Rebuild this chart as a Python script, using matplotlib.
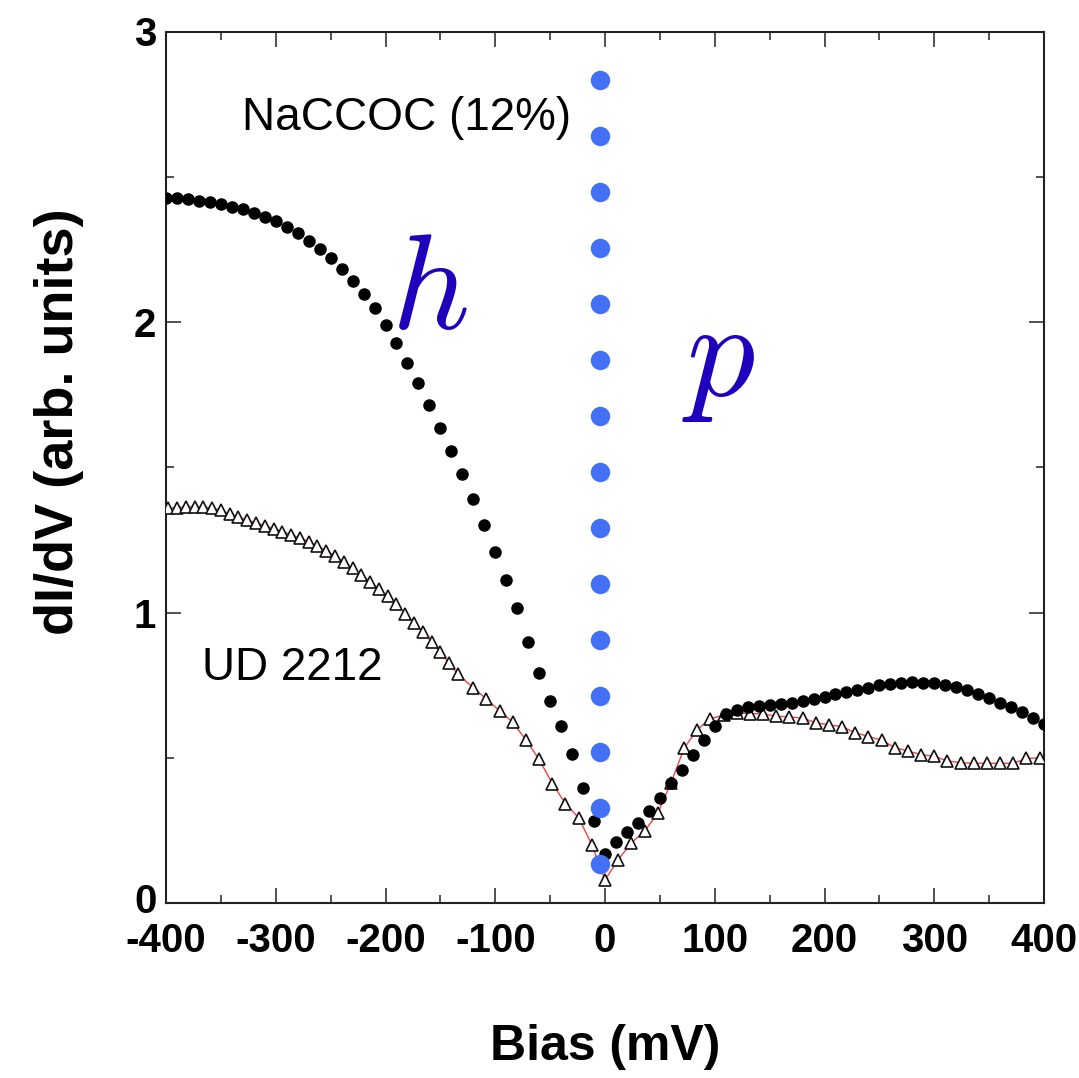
import matplotlib
matplotlib.use("Agg")
import matplotlib.pyplot as plt
from matplotlib import font_manager as fm
from matplotlib.transforms import ScaledTranslation

# ---------------- data ----------------
bias_nac = [-400, -390, -380, -370, -360, -350, -340, -330, -320, -310,
            -300, -290, -280, -270, -260, -250, -240, -230, -220, -210,
            -200, -190, -180, -170, -160, -150, -140, -130, -120, -110,
            -100, -90, -80, -70, -60, -50, -40, -30, -20, -10,
            0,
            10, 20, 30, 40, 50, 60, 70, 80, 90, 100,
            110, 120, 130, 140, 150, 160, 170, 180, 190, 200,
            210, 220, 230, 240, 250, 260, 270, 280, 290, 300,
            310, 320, 330, 340, 350, 360, 370, 380, 390, 400]
didv_nac = [2.428, 2.426, 2.422, 2.418, 2.412, 2.406, 2.397, 2.389, 2.376, 2.363,
            2.348, 2.326, 2.305, 2.280, 2.250, 2.219, 2.182, 2.141, 2.095, 2.047,
            1.990, 1.929, 1.859, 1.791, 1.715, 1.636, 1.557, 1.476, 1.390, 1.300,
            1.209, 1.112, 1.015, 0.900, 0.793, 0.695, 0.609, 0.513, 0.397, 0.282,
            0.168,
            0.210, 0.243, 0.276, 0.317, 0.362, 0.412, 0.458, 0.511, 0.562, 0.609,
            0.649, 0.666, 0.675, 0.678, 0.680, 0.684, 0.690, 0.695, 0.702, 0.710,
            0.719, 0.727, 0.734, 0.741, 0.749, 0.754, 0.758, 0.760, 0.759, 0.756,
            0.750, 0.742, 0.733, 0.721, 0.706, 0.690, 0.673, 0.657, 0.638, 0.615]

bias_ud = [-398, -390, -382, -374, -366, -358, -350, -342, -334, -326,
           -318, -310, -302, -294, -286, -278, -270, -262, -254, -246,
           -238, -230, -222, -214, -206, -198, -190, -182, -174, -166,
           -158, -150, -142, -134,
           -120, -108, -96, -84, -72, -60, -48, -36, -24, -12,
           0, 12, 24, 36, 48, 60, 72, 84, 96, 108,
           120, 132, 144, 156, 168, 180, 192, 204, 216, 228,
           240, 252, 264, 276, 288, 300, 312, 324, 336, 348,
           360, 372, 384, 396]
didv_ud = [1.359, 1.361, 1.363, 1.364, 1.363, 1.360, 1.352, 1.340, 1.328, 1.318,
           1.309, 1.299, 1.289, 1.278, 1.268, 1.257, 1.244, 1.229, 1.213, 1.195,
           1.174, 1.152, 1.129, 1.106, 1.081, 1.056, 1.028, 0.995, 0.965, 0.933,
           0.899, 0.863, 0.825, 0.787,
           0.741, 0.702, 0.661, 0.622, 0.561, 0.494, 0.411, 0.342, 0.293, 0.201,
           0.079, 0.149, 0.207, 0.247, 0.309, 0.412, 0.532, 0.597, 0.634, 0.647,
           0.654, 0.652, 0.651, 0.643, 0.641, 0.636, 0.621, 0.613, 0.607, 0.586,
           0.573, 0.561, 0.535, 0.523, 0.511, 0.505, 0.489, 0.483, 0.481, 0.481,
           0.481, 0.481, 0.498, 0.499]

divider_bias = [-5] * 15
divider_y = [2.833, 2.640, 2.447, 2.254, 2.061, 1.869, 1.676, 1.483, 1.290,
             1.097, 0.905, 0.712, 0.519, 0.326, 0.134]

x_ticks = [-400, -300, -200, -100, 0, 100, 200, 300, 400]
x_tick_labels = ['-400', '-300', '-200', '-100', '0', '100', '200', '300', '400']
y_ticks = [0, 1, 2, 3]
y_tick_labels = ['0', '1', '2', '3']

# ---------------- fonts ----------------
def has_font(fam):
    try:
        fm.findfont(fm.FontProperties(family=fam), fallback_to_default=False)
        return True
    except Exception:
        return False

NARROW = has_font('Liberation Sans Narrow')
if NARROW:
    tick_fam, tick_size = 'Liberation Sans Narrow', 35
    ann_fam, ann_size = 'Liberation Sans Narrow', 39
else:
    tick_fam, tick_size = 'Liberation Sans', 29
    ann_fam, ann_size = 'Liberation Sans', 33
label_fam = 'Liberation Sans'

plt.rcParams['mathtext.fontset'] = 'cm'

# ---------------- figure ----------------
W, H = 1079, 1078
fig = plt.figure(figsize=(W / 100, H / 100), dpi=100)
ax = fig.add_axes([166 / W, 1 - 903 / H, (1044 - 166) / W, (903 - 31.5) / H])

ax.plot(bias_ud, didv_ud, '-', color='#EE4444', lw=1.0, zorder=2)
ax.plot(bias_ud, didv_ud, '^', ls='none', ms=8.5, mfc='white', mec='#111111',
        mew=1.2, zorder=3)
ax.plot(bias_nac, didv_nac, 'o', ls='none', ms=8, color='black', zorder=4)
ax.plot(divider_bias, divider_y, 'o', ls='none', ms=14, color='#4470F5',
        mec='none', zorder=5)

ax.set_xlim(-400, 400)
ax.set_ylim(0, 3)
ax.set_xticks(x_ticks, labels=x_tick_labels, family=tick_fam,
              fontsize=tick_size, fontweight='bold')
ax.set_yticks(y_ticks, labels=y_tick_labels, family=tick_fam,
              fontsize=tick_size, fontweight='bold')
ax.set_xticks([-350, -250, -150, -50, 50, 150, 250, 350], minor=True)
ax.set_yticks([0.5, 1.5, 2.5], minor=True)
ax.tick_params(which='both', direction='in', top=True, right=True,
               color='#222222', width=1.1)
ax.tick_params(which='major', length=11)
ax.tick_params(which='minor', length=5.5)
ax.tick_params(axis='x', which='major', pad=14)
ax.tick_params(axis='y', which='major', pad=7)
for s in ax.spines.values():
    s.set_linewidth(1.5)
    s.set_color('#222222')

# nudge the "0" y label up a little so it does not collide with "-400"
zero_lbl = ax.get_yticklabels()[0]
zero_lbl.set_transform(zero_lbl.get_transform()
                       + ScaledTranslation(0, 5 / 100, fig.dpi_scale_trans))

# annotations
ax.text(-181, 2.661, 'NaCCOC (12%)', family=ann_fam, fontsize=ann_size,
        ha='center', va='baseline', color='black', zorder=6)
ax.text(-285, 0.768, 'UD 2212', family=ann_fam, fontsize=ann_size,
        ha='center', va='baseline', color='black', zorder=6)
ax.text(-160, 1.98, r'$h$', fontsize=98, color='#2100BD', ha='center',
        va='baseline', zorder=6)
ax.text(104, 1.75, r'$p$', fontsize=98, color='#2100BD', ha='center',
        va='baseline', zorder=6)

# axis labels
fig.text(605.5 / W, 1 - 1060 / H, 'Bias (mV)', family=label_fam, fontsize=36,
         fontweight='bold', ha='center', va='baseline')
fig.text(73 / W, 1 - 421.5 / H, 'dI/dV (arb. units)', family=label_fam,
         fontsize=39, fontweight='bold', rotation=90, rotation_mode='anchor',
         ha='center', va='baseline')

fig.savefig('out.png', dpi=100)
